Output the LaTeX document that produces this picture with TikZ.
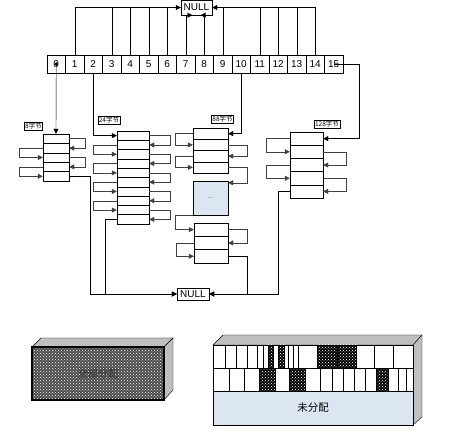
\documentclass[tikz,border=0pt]{standalone}
\usepackage{fontspec}
\setmainfont{Liberation Sans}
\newfontfamily\cjk{Noto Sans CJK SC}
\usetikzlibrary{arrows.meta,patterns,calc}

\definecolor{freeblue}{HTML}{DCE6F2}
\definecolor{facegray}{HTML}{BFBFBF}

\begin{document}
\begin{tikzpicture}[x=1pt, y=-1pt,
    cell/.style={draw, minimum width=18.5pt, minimum height=18pt, inner sep=0,
        font=\fontsize{10}{10}\selectfont},
    slot/.style={draw, fill=white, inner sep=0},
    tag/.style={draw, inner sep=0.8pt, font=\cjk\fontsize{6.5}{6.5}\selectfont},
    nullbox/.style={draw, inner sep=0.5pt, font=\fontsize{10}{10}\selectfont},
    arr/.style={-{Triangle[length=5pt,width=5pt]}},
    link/.style={arr, draw=black!75},
    used/.style={preaction={fill=black}, pattern=crosshatch dots, pattern color=white}]

    \useasboundingbox (0,0) rectangle (451,433);

    % Free list heads
    \foreach \i in {0,...,15}
        \node[cell] (c\i) at (56.25+18.5*\i, 64) {\i};

    % NULL ends
    \node[nullbox, minimum width=31pt, minimum height=15pt] (nulltop) at (196.5,7.5) {NULL};
    \node[nullbox, minimum width=32pt, minimum height=12pt] (nullbot) at (193,294) {NULL};

    % Empty lists into the upper NULL
    \draw[arr] (c1.north) |- (nulltop.west);
    \foreach \i in {3,4,5,6}
        \draw (c\i.north) -- (c\i.north |- nulltop.west);
    \draw[arr] (c14.north) |- (nulltop.east);
    \foreach \i in {9,11,12,13}
        \draw (c\i.north) -- (c\i.north |- nulltop.east);
    \draw[arr] (c7.north) |- ($(nulltop.south)+(-4,0)$);
    \draw[arr] (c8.north) |- ($(nulltop.south)+(4,0)$);

    % 8 byte chunks
    \node[tag] (tag8) at (33.5,126) {8字节};
    \foreach \i in {0,...,4}
        \node[slot, minimum width=26pt, minimum height=9.4pt] (a\i) at (56, 138.7+9.4*\i) {};
    \fill (c0.center) circle (1.8pt);
    \draw[arr] (c0.center) -- (a0.north);
    \foreach \i/\j in {0/1,2/3}
        \draw[link] (a\i.east) -- ++(16,0) |- (a\j.east);
    \foreach \i/\j in {1/2,3/4}
        \draw[link] (a\i.west) -- ++(-24,0) |- (a\j.west);
    \draw[arr] (a4.east) -- ++(21,0) |- (nullbot.west);

    % 24 byte chunks
    \node[tag] (tag24) at (109,120.5) {24字节};
    \foreach \i in {0,...,9}
        \node[slot, minimum width=32pt, minimum height=9.3pt] (b\i) at (133, 135.65+9.3*\i) {};
    \draw[arr] (c2.south) |- (b0.west);
    \foreach \i/\j in {0/1,2/3,4/5,6/7,8/9}
        \draw[link] (b\i.east) -- ++(21,0) |- (b\j.east);
    \foreach \i/\j in {1/2,3/4,5/6,7/8}
        \draw[link] (b\i.west) -- ++(-24,0) |- (b\j.west);
    \draw[arr] (b9.west) -- ++(-12,0) |- (nullbot.west);

    % 88 byte chunks
    \node[tag] (tag88) at (222.5,119) {88字节};
    \foreach \i in {0,...,3}
        \node[slot, minimum width=35pt, minimum height=11.25pt] (d\i) at (210.5, 133.6+11.25*\i) {};
    \node[draw, fill=freeblue, minimum width=35pt, minimum height=34pt, inner sep=0,
        font=\fontsize{7}{7}\selectfont, text=black!60] (dots) at (210.5,198) {...};
    \foreach \i in {0,...,2}
        \node[slot, minimum width=34pt, minimum height=13.3pt] (f\i) at (211, 229.65+13.3*\i) {};
    \draw[arr] (c10.south) |- (d0.east);
    \foreach \i/\j in {0/1,2/3}
        \draw[link] (d\i.west) -- ++(-18,0) |- (d\j.west);
    \draw[link] (d1.east) -- ++(19,0) |- (d2.east);
    \draw[link] (d3.east) -- ++(19,0) |- ($(dots.north east)+(0,2)$);
    \draw[link] (dots.south west) -- ++(-18,0) |- (f0.west);
    \draw[link] (f0.east) -- ++(19,0) |- (f1.east);
    \draw[link] (f1.west) -- ++(-18,0) |- (f2.west);
    \draw[arr] (f2.east) -- ++(19,0) |- (nullbot.east);

    % 128 byte chunks
    \node[tag] (tag128) at (327,124) {128字节};
    \foreach \i in {0,...,4}
        \node[slot, minimum width=33pt, minimum height=13.2pt] (e\i) at (306.5, 138.6+13.2*\i) {};
    \draw[arr] (c15.center) -- ++(25.5,0) |- (e0.east);
    \foreach \i/\j in {0/1,2/3}
        \draw[link] (e\i.west) -- ++(-24,0) |- (e\j.west);
    \foreach \i/\j in {1/2,3/4}
        \draw[link] (e\i.east) -- ++(23,0) |- (e\j.east);
    \draw[arr] (e4.west) -- ++(-12,0) |- (nullbot.east);

    % Pool before
    \draw[fill=facegray] (32,347) -- (41,338) -- (173,338) -- (164,347) -- cycle;
    \draw[fill=facegray] (164,347) -- (173,338) -- (173,390) -- (164,400) -- cycle;
    \node[draw, line width=1.6pt, minimum width=132pt, minimum height=53pt, inner sep=0,
        preaction={fill=black!70}, pattern=crosshatch dots, pattern color=white,
        font=\cjk\fontsize{10}{10}\selectfont, text=black!80] (poolfull) at (98,373.5) {全部分配};

    % Pool after
    \draw[fill=facegray] (213,345) -- (223,335) -- (422,335) -- (413,345) -- cycle;
    \draw[fill=facegray] (413,345) -- (422,335) -- (422,417) -- (413,425) -- cycle;
    \fill[white] (213,345) rectangle (413,391);
    \node[fill=freeblue, minimum width=200pt, minimum height=34pt, inner sep=0,
        font=\cjk\fontsize{10.5}{10.5}\selectfont] (poolfree) at (313,408) {未分配};
    \foreach \l/\r in {268/273, 278/284, 317/337, 337/356}
        \draw[used] (\l,345) rectangle (\r,368);
    \foreach \l/\r in {259/275, 289/305, 376/388}
        \draw[used] (\l,368) rectangle (\r,391);
    \foreach \x in {225,236,247,257,263,268,273,278,284,288,293,298,317,337,356,374,393}
        \draw (\x,345) -- (\x,368);
    \foreach \x in {229,244,259,275,289,305,320,332,343,354,365,376,388,398,406}
        \draw (\x,368) -- (\x,391);
    \draw (213,368) -- (413,368);
    \draw[thick] (213,391) -- (413,391);
    \draw[thick] (213,345) rectangle (413,425);

\end{tikzpicture}
\end{document}
